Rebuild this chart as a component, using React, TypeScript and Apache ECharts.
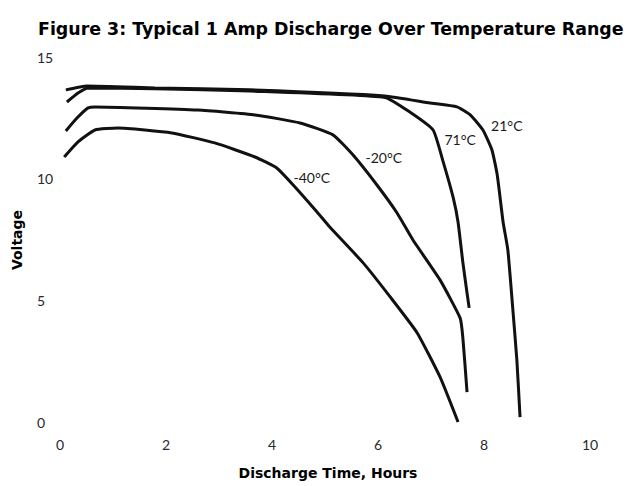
import React, { useEffect, useRef } from "react";
import * as echarts from "echarts";

const TITLE = "Figure 3: Typical 1 Amp Discharge Over Temperature Range";
const X_NAME = "Discharge Time, Hours";
const Y_NAME = "Voltage";

const hours21 = [0.11, 0.51, 1.79, 3.58, 6.13, 6.98, 7.49, 7.74, 7.98, 8.15, 8.25, 8.36, 8.45, 8.53, 8.62, 8.68];
const volts21 = [13.65, 13.81, 13.73, 13.65, 13.4, 13.11, 12.95, 12.62, 12.0, 11.18, 10.15, 8.22, 7.07, 5.01, 2.55, 0.2];

const hours71 = [0.13, 0.34, 0.53, 1.79, 3.58, 6.13, 6.6, 7.04, 7.23, 7.42, 7.51, 7.6, 7.68, 7.72];
const volts71 = [13.15, 13.52, 13.73, 13.7, 13.6, 13.34, 12.74, 12.0, 10.69, 9.21, 8.22, 6.58, 5.3, 4.69];

const hoursM20 = [0.11, 0.32, 0.53, 0.66, 2.6, 3.68, 4.53, 5.15, 5.53, 5.98, 6.36, 6.66, 7.17, 7.55, 7.6, 7.68];
const voltsM20 = [11.96, 12.49, 12.91, 12.95, 12.82, 12.62, 12.29, 11.8, 10.97, 9.74, 8.59, 7.48, 5.84, 4.27, 3.49, 1.23];

const hoursM40 = [0.08, 0.34, 0.66, 1.09, 2.11, 2.92, 3.68, 4.09, 4.4, 4.85, 5.09, 5.72, 6.23, 6.74, 7.17, 7.51];
const voltsM40 = [10.89, 11.51, 12.0, 12.08, 11.88, 11.47, 10.89, 10.44, 9.74, 8.63, 8.01, 6.54, 5.14, 3.66, 1.85, 0];

const labelNames = ["21°C", "71°C", "-20°C", "-40°C"];
const labelHours = [8.43, 7.55, 6.11, 4.75];
const labelVolts = [12.17, 11.63, 10.89, 10.03];

const xTicks = [0, 10, 2];
const yTicks = [0, 15, 5];

const zip = (a: number[], b: number[]) => a.map((v, i) => [v, b[i]]);

export default function App() {
  const ref = useRef<HTMLDivElement>(null);
  useEffect(() => {
    if (!ref.current) return;
    const chart = echarts.init(ref.current, undefined, { renderer: "svg" });
    const lineColor = "#111";
    const tickFont = { fontFamily: "Lato", fontWeight: "normal" as any, fontSize: 14, color: "#2a2a2a" };
    const sets = [
      zip(hours21, volts21),
      zip(hours71, volts71),
      zip(hoursM20, voltsM20),
      zip(hoursM40, voltsM40),
    ];
    const series: any[] = sets.map((d, i) => ({
      type: "line",
      data: d,
      symbol: "none",
      smooth: 0.15,
      clip: false,
      lineStyle: { color: lineColor, width: 3 },
      markPoint: {
        symbol: "circle",
        symbolSize: 1,
        itemStyle: { color: "rgba(0,0,0,0)" },
        label: {
          show: true,
          position: "inside",
          formatter: labelNames[i],
          fontFamily: "Lato",
          fontSize: 14,
          color: "#1a1a1a",
        },
        data: [{ coord: [labelHours[i], labelVolts[i]] }],
      },
    }));
    chart.setOption({
      animation: false,
      grid: { left: 60, right: 47, top: 57, bottom: 64 },
      xAxis: {
        type: "value",
        min: xTicks[0],
        max: xTicks[1],
        interval: xTicks[2],
        axisLine: { show: false },
        axisTick: { show: false },
        splitLine: { show: false },
        axisLabel: { ...tickFont, margin: 15 },
      },
      yAxis: {
        type: "value",
        min: yTicks[0],
        max: yTicks[1],
        interval: yTicks[2],
        axisLine: { show: false },
        axisTick: { show: false },
        splitLine: { show: false },
        axisLabel: { ...tickFont, margin: 23, align: "left" },
      },
      graphic: [
        {
          type: "text",
          left: 38,
          top: 20,
          style: { text: TITLE, fontFamily: "DejaVu Sans", fontWeight: "bold", fontSize: 17.4, fill: "#000" },
        },
        {
          type: "text",
          x: 328,
          y: 473,
          style: {
            text: X_NAME,
            fontFamily: "DejaVu Sans",
            fontWeight: "bold",
            fontSize: 14,
            fill: "#000",
            align: "center",
            verticalAlign: "middle",
          },
        },
        {
          type: "text",
          x: 17,
          y: 240,
          rotation: Math.PI / 2,
          style: {
            text: Y_NAME,
            fontFamily: "DejaVu Sans",
            fontWeight: "bold",
            fontSize: 14,
            fill: "#000",
            align: "center",
            verticalAlign: "middle",
          },
        },
      ],
      series,
    });
    return () => chart.dispose();
  }, []);
  return <div ref={ref} style={{ width: 637, height: 486, position: "absolute", left: 0, top: 0 }} />;
}
